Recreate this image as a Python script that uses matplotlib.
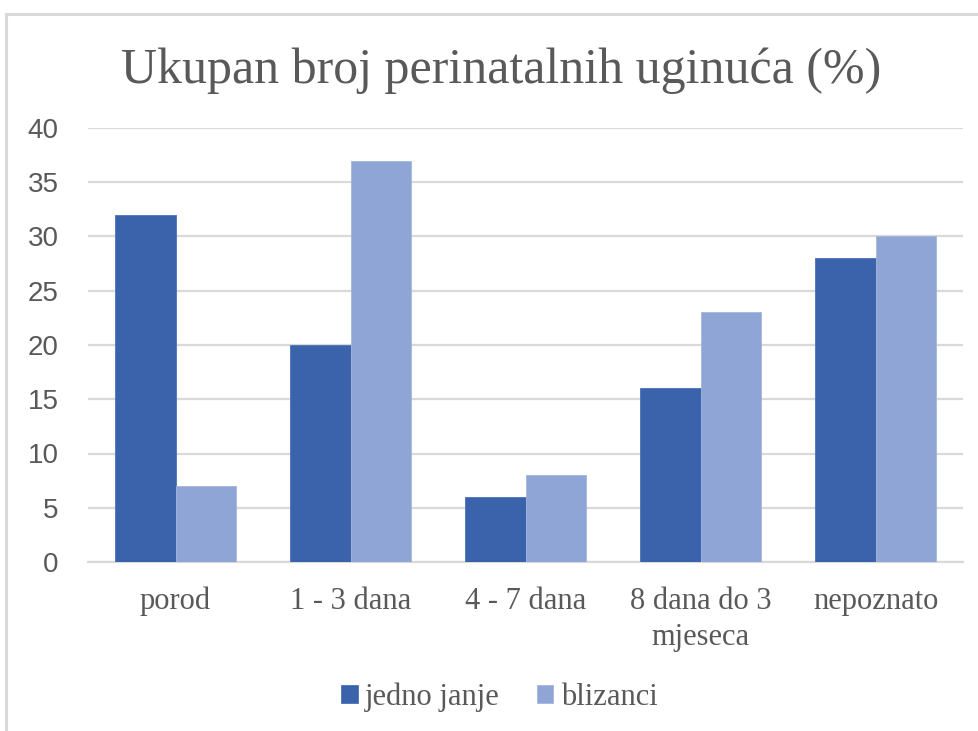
import matplotlib.pyplot as plt
import numpy as np
from matplotlib.patches import Rectangle

categories = ['porod', '1 - 3 dana', '4 - 7 dana', '8 dana do 3\nmjeseca', 'nepoznato']
jedno_janje = [32, 20, 6, 16, 28]
blizanci = [7, 37, 8, 23, 30]

dark = '#3A63AC'
light = '#8FA5D6'
text_col = '#595959'
serif = ['Liberation Serif', 'DejaVu Serif']
sans = ['Liberation Sans', 'DejaVu Sans']

fig = plt.figure(figsize=(9.79, 7.31), dpi=100)
ax = fig.add_axes([88 / 979, 1 - 562 / 731, (963 - 88) / 979, (562 - 128) / 731])

x = np.arange(len(categories))
w = 0.343
ax.bar(x - w / 2, jedno_janje, w, color=dark, edgecolor='#4A72B8', linewidth=0.6, label='jedno janje', zorder=3)
ax.bar(x + w / 2, blizanci, w, color=light, edgecolor='#A4B6DE', linewidth=0.6, label='blizanci', zorder=3)

ax.set_xlim(-0.5, len(categories) - 0.5)
ax.set_ylim(0, 40)
ax.set_yticks(range(0, 41, 5))
ax.yaxis.grid(True, color='#d9d9d9', linewidth=1.6, zorder=0)
ax.set_axisbelow(True)
for s in ['top', 'right', 'left']:
    ax.spines[s].set_visible(False)
ax.spines['bottom'].set_color('#d9d9d9')
ax.spines['bottom'].set_linewidth(1.6)
ax.tick_params(length=0)
ax.tick_params(axis='y', pad=21, labelsize=20, labelcolor=text_col)
ax.tick_params(axis='x', pad=18, labelcolor=text_col)
for t in ax.get_yticklabels():
    t.set_fontfamily(sans)
ax.set_xticks(x)
ax.set_xticklabels(categories, fontsize=22, fontfamily=serif, linespacing=1.3)

fig.text(0.512, 1 - 71 / 731, 'Ukupan broj perinatalnih uginuća (%)', ha='center', va='center',
         fontsize=36, fontfamily=serif, color=text_col)

leg = fig.legend(loc='center', bbox_to_anchor=(0.51, 1 - 697 / 731), ncol=2, frameon=False,
                 prop={'family': serif, 'size': 22}, handlelength=0.55, handleheight=0.55,
                 handletextpad=0.25, columnspacing=1.2)
for t in leg.get_texts():
    t.set_color(text_col)

# chart border
fig.add_artist(Rectangle((6 / 979, -0.05), 1.2, 1 - 14 / 731 + 0.05, transform=fig.transFigure,
                         fill=False, edgecolor='#d9d9d9', linewidth=2.2))

fig.savefig('out.png', dpi=100)
